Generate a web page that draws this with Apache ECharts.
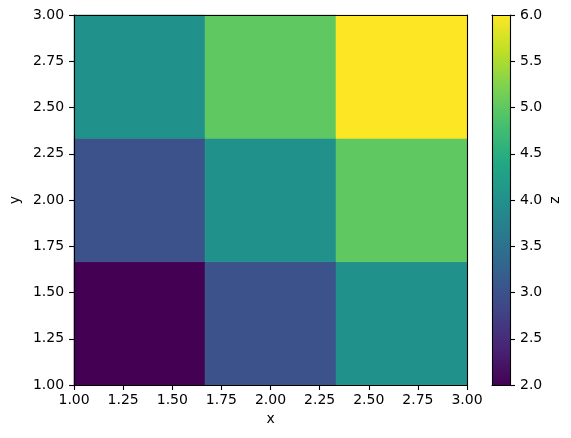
<!DOCTYPE html>
<html>
<head>
<meta charset="utf-8">
<script src="https://cdn.jsdelivr.net/npm/echarts@6/dist/echarts.min.js"></script>
<style>html,body{margin:0;padding:0;background:#fff;}#c{width:571px;height:438px;}</style>
</head>
<body>
<div id="c"></div>
<script>
// Cell edges (data units)
const xEdges = [1, 5/3, 7/3, 3];
const yEdges = [1, 5/3, 7/3, 3];
// z values, rows from bottom (y low) to top (y high), columns left to right
const zValues = [
  [2, 3, 4],
  [3, 4, 5],
  [4, 5, 6]
];
const zMin = 2, zMax = 6;
const xTickInterval = 0.25;
const yTickInterval = 0.25;
const zTickInterval = 0.5;
const viridis = ['#440154','#482475','#414487','#355f8d','#2a788e','#21918c','#22a884','#44bf70','#7ad151','#bddf26','#fde725'];

const cells = [];
for (let r = 0; r < zValues.length; r++) {
  for (let c = 0; c < zValues[r].length; c++) {
    cells.push([xEdges[c], xEdges[c+1], yEdges[r], yEdges[r+1], zValues[r][c]]);
  }
}

const FONT = 'DejaVu Sans';
const FS = 14;
const lineStyle = {color:'#000', width:1.1};
const tick = {show:true, length:5, lineStyle:{color:'#000', width:1.1}};

const chart = echarts.init(document.getElementById('c'), null, {renderer:'canvas'});
chart.setOption({
  animation:false,
  backgroundColor:'#fff',
  textStyle:{fontFamily:FONT},
  grid:[
    {left:70, top:15, width:397, height:370},
    {left:492, top:15, width:18, height:370}
  ],
  xAxis:[
    {type:'value', gridIndex:0, min:1, max:3, interval:xTickInterval, position:'bottom', z:10,
     axisLine:{show:true, lineStyle}, axisTick:tick, splitLine:{show:false},
     axisLabel:{color:'#000', fontSize:FS, fontFamily:FONT, margin:8, formatter:v=>v.toFixed(2)},
     name:'x', nameLocation:'middle', nameGap:27, nameTextStyle:{color:'#000', fontSize:FS, fontFamily:FONT}},
    {type:'value', gridIndex:0, min:1, max:3, position:'top', z:10,
     axisLine:{show:true, onZero:false, lineStyle}, axisTick:{show:false}, axisLabel:{show:false}, splitLine:{show:false}},
    {type:'value', gridIndex:1, min:0, max:1, position:'bottom', z:10,
     axisLine:{show:true, onZero:false, lineStyle}, axisTick:{show:false}, axisLabel:{show:false}, splitLine:{show:false}},
    {type:'value', gridIndex:1, min:0, max:1, position:'top', z:10,
     axisLine:{show:true, onZero:false, lineStyle}, axisTick:{show:false}, axisLabel:{show:false}, splitLine:{show:false}}
  ],
  yAxis:[
    {type:'value', gridIndex:0, min:1, max:3, interval:yTickInterval, position:'left', z:10,
     axisLine:{show:true, onZero:false, lineStyle}, axisTick:tick, splitLine:{show:false},
     axisLabel:{color:'#000', fontSize:FS, fontFamily:FONT, margin:10, formatter:v=>v.toFixed(2)},
     name:'y', nameLocation:'middle', nameGap:48, nameRotate:90, nameTextStyle:{color:'#000', fontSize:FS, fontFamily:FONT}},
    {type:'value', gridIndex:0, min:1, max:3, position:'right', z:10,
     axisLine:{show:true, onZero:false, lineStyle}, axisTick:{show:false}, axisLabel:{show:false}, splitLine:{show:false}},
    {type:'value', gridIndex:1, min:zMin, max:zMax, interval:zTickInterval, position:'right', z:10,
     axisLine:{show:true, onZero:false, lineStyle}, axisTick:tick, splitLine:{show:false},
     axisLabel:{color:'#000', fontSize:FS, fontFamily:FONT, margin:10, formatter:v=>v.toFixed(1)},
     name:'z', nameLocation:'middle', nameGap:38, nameRotate:90, nameTextStyle:{color:'#000', fontSize:FS, fontFamily:FONT}},
    {type:'value', gridIndex:1, min:zMin, max:zMax, position:'left', z:10,
     axisLine:{show:true, onZero:false, lineStyle}, axisTick:{show:false}, axisLabel:{show:false}, splitLine:{show:false}}
  ],
  visualMap:{type:'continuous', show:false, seriesIndex:0, dimension:4, min:zMin, max:zMax, inRange:{color:viridis}},
  series:[
    {type:'custom', xAxisIndex:0, yAxisIndex:0, data:cells, encode:{x:[0,1], y:[2,3]},
     renderItem:function(params, api){
       const p0 = api.coord([api.value(0), api.value(3)]);
       const p1 = api.coord([api.value(1), api.value(2)]);
       const col = api.visual('color');
       return {type:'rect', shape:{x:p0[0], y:p0[1], width:p1[0]-p0[0], height:p1[1]-p0[1]},
               style:{fill:col, stroke:col, lineWidth:0.6}};
     }},
    {type:'custom', xAxisIndex:2, yAxisIndex:2, data:[[0, 1, zMin, zMax]], encode:{x:[0,1], y:[2,3]},
     renderItem:function(params, api){
       const p0 = api.coord([api.value(0), api.value(3)]);
       const p1 = api.coord([api.value(1), api.value(2)]);
       const stops = viridis.map((c,i)=>({offset:1 - i/(viridis.length-1), color:c})).reverse();
       return {type:'rect', shape:{x:p0[0], y:p0[1], width:p1[0]-p0[0], height:p1[1]-p0[1]},
               style:{fill:new echarts.graphic.LinearGradient(0,0,0,1,stops)}};
     }}
  ]
});
</script>
</body>
</html>
